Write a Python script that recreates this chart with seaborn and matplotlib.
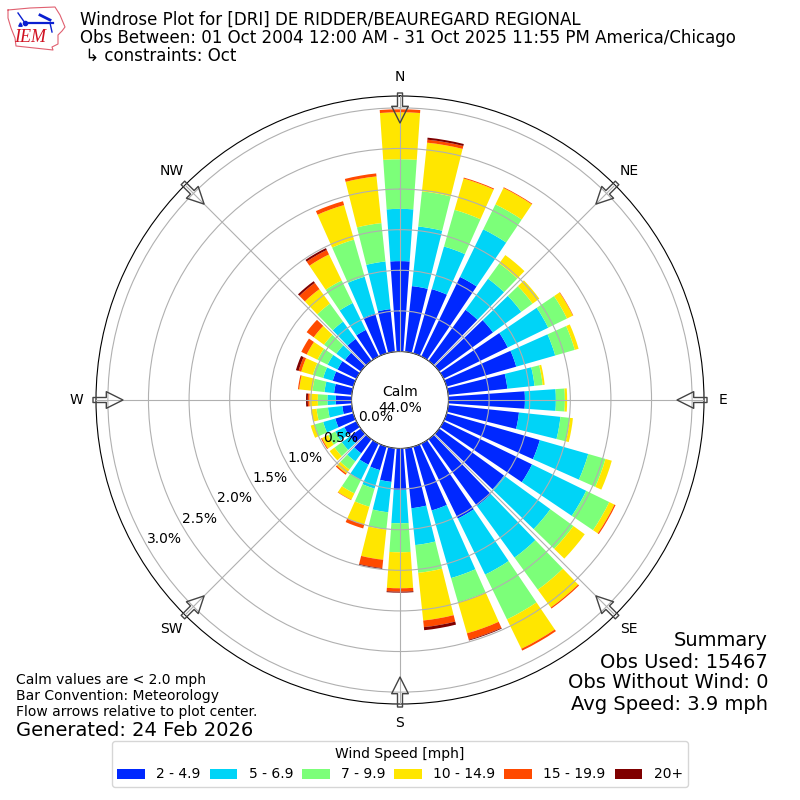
import numpy as np
import pandas as pd
import seaborn as sns
import matplotlib.pyplot as plt

# --- Data, percent of obs per 10 degree direction bin (0 = N, clockwise) ---
directions = list(range(0, 360, 10))
speed_labels = ['2 - 4.9', '5 - 6.9', '7 - 9.9', '10 - 14.9', '15 - 19.9', '20+']
speed_colors = ['#0028ff', '#00d4f7', '#7cff79', '#ffe600', '#ff4a00', '#7f0000']

speed_2 = [1.113, .813, .823, 1.089, .776, .818, .879, .892, .732, .941, .876, 1.194,
           1.212, .986, 1.015, 1.027, .818, .743, .511, .417, .301, .289, .215, .166,
           .166, .232, .117, .194, .219, .264, .258, .24, .333, .363, .510, .528]
speed_5 = [.643, .738, .546, .652, .472, .431, .554, .499, .336, .381, .513, .62,
           .742, .705, .787, .768, .866, .456, .41, .376, .237, .209, .123, .123,
           .123, .155, .178, .103, .119, .123, .137, .133, .263, .369, .472, .59]
speed_7 = [.611, .435, .47, .342, .234, .172, .258, .251, .101, .111, .118, .221,
           .316, .351, .488, .614, .312, .344, .357, .214, .232, .185, .123, .111,
           .098, .111, .141, .118, .148, .132, .138, .187, .274, .308, .475, .475]
speed_10 = [.578, .603, .401, .224, .127, .103, .08, .049, .025, .028, .037, .081,
            .07, .173, .271, .402, .396, .59, .443, .374, .229, .086, .062, .074,
            .086, .049, .068, .103, .165, .149, .148, .156, .22, .357, .443, .578]
speed_15 = [.037, .037, .012, .01, 0, 0, .006, 0, 0, 0, 0, 0,
            .016, 0, .016, .025, .082, .082, .042, .103, .049, .006, .018, 0,
            .012, 0, 0, .02, .015, .034, .074, .108, .096, .062, .049, .037]
speed_20 = [0, .025, 0, 0, 0, 0, 0, 0, 0, 0, 0, 0,
            0, 0, 0, 0, .01, .038, .012, .01, 0, 0, 0, 0,
            0, 0, 0, .022, 0, .034, 0, 0, .025, .025, 0, 0]
all_speeds = [speed_2, speed_5, speed_7, speed_10, speed_15, speed_20]

radial_ticks = [0, 0.5, 1.0, 1.5, 2.0, 2.5, 3.0]
compass = ['N', 'NE', 'E', 'SE', 'S', 'SW', 'W', 'NW']
compass_deg = [0, 45, 90, 135, 180, 225, 270, 315]

fig = plt.figure(figsize=(8, 8), dpi=100)
ax = fig.add_axes([0.12, 0.12, 0.76, 0.76], projection='polar')
ax.set_theta_zero_location('N')
ax.set_theta_direction(-1)

# --- Stacked bars ---
theta = np.deg2rad(directions)
bottom = np.zeros(len(directions))
for vals, color, label in zip(all_speeds, speed_colors, speed_labels):
    df = pd.DataFrame({'theta': theta, 'pct': vals})
    sns.barplot(data=df, x='theta', y='pct', native_scale=True, errorbar=None, width=0.8,
                color=color, saturation=1, bottom=bottom, linewidth=0, ax=ax, zorder=2)
    bottom = bottom + np.array(vals)

ax.set_xlabel('')
ax.set_ylabel('')
ax.set_rorigin(-0.597)
ax.set_ylim(0, 3.146)
ax.set_xlim(0, 2 * np.pi)
ax.set_xticks(np.deg2rad(compass_deg))
ax.set_xticklabels(compass)
ax.set_yticks(radial_ticks)
ax.set_yticklabels([f'{v:.1f}%' for v in radial_ticks])
ax.set_rlabel_position(240)
ax.grid(True, color='#b0b0b0', linewidth=0.8, zorder=3)
ax.set_axisbelow(False)

# Flow arrows on the compass points
for deg in compass_deg:
    t = np.deg2rad(deg)
    ax.annotate('', xy=(t, 2.814), xytext=(t, 3.183), annotation_clip=False, zorder=5,
                arrowprops=dict(width=3.6, headwidth=12, headlength=12, facecolor='none',
                                edgecolor='#444444', linewidth=1, shrink=0))

ax.text(0.5, 0.5, 'Calm\n44.0%', transform=ax.transAxes, ha='center', va='center', fontsize=10)

# --- Page furniture, in pixel coordinates ---
page = fig.add_axes([0, 0, 1, 1], zorder=-1)
page.set_xlim(0, 800)
page.set_ylim(800, 0)
page.axis('off')

page.text(80, 20, 'Windrose Plot for [DRI] DE RIDDER/BEAUREGARD REGIONAL', fontsize=12, va='center')
page.text(80, 38, 'Obs Between: 01 Oct 2004 12:00 AM - 31 Oct 2025 11:55 PM America/Chicago',
          fontsize=12, va='center')
page.text(80, 56, ' ↳ constraints: Oct', fontsize=12, va='center')

page.text(16, 680, 'Calm values are < 2.0 mph', fontsize=10, va='center')
page.text(16, 696, 'Bar Convention: Meteorology', fontsize=10, va='center')
page.text(16, 712, 'Flow arrows relative to plot center.', fontsize=10, va='center')
page.text(16, 730, 'Generated: 24 Feb 2026', fontsize=14, va='center')

page.text(768, 640, 'Summary', fontsize=14, ha='right', va='center')
page.text(768, 662, 'Obs Used: 15467', fontsize=14, ha='right', va='center')
page.text(768, 683, 'Obs Without Wind: 0', fontsize=14, ha='right', va='center')
page.text(768, 705, 'Avg Speed: 3.9 mph', fontsize=14, ha='right', va='center')

# IEM logo
page.plot([8, 30, 55, 60, 65, 62, 58, 58, 52, 53, 16, 15, 11, 8, 8],
          [10, 8, 7, 15, 27, 31, 35, 44, 47, 50, 46, 38, 28, 18, 10], color='#e06070', lw=0.8)
page.plot([25, 53], [23, 23], color='#0a1fd0', lw=1.6)
page.plot([18, 25], [13, 23], color='#0a1fd0', lw=1)
page.plot([40, 50], [15, 20], color='#0a1fd0', lw=2)
page.plot([50, 52], [23, 32], color='#0a1fd0', lw=1)
page.plot([25], [23], 'o', color='#0a1fd0', ms=3)
page.plot([20], [24], '^', color='#0a1fd0', ms=2.5)
page.text(30, 38, 'IEM', color='#d01020', fontsize=13, family='Liberation Serif',
          style='italic', ha='center', va='center')

fig.legend(ax.containers, speed_labels, ncol=6, title='Wind Speed [mph]', fontsize=10,
           columnspacing=0.65, loc='lower center', bbox_to_anchor=(0.5, 0.0075))

plt.savefig('out.png', dpi=100)
